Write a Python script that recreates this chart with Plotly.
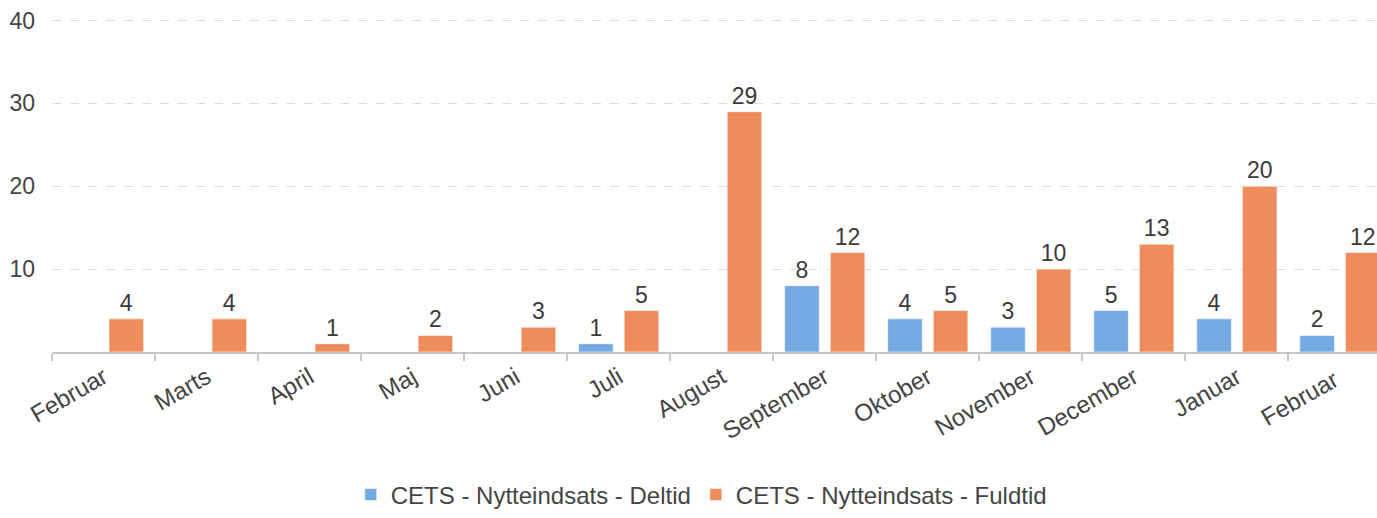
import plotly.graph_objects as go

months = ["Februar", "Marts", "April", "Maj", "Juni", "Juli", "August",
          "September", "Oktober", "November", "December", "Januar", "Februar "]
deltid = [None, None, None, None, None, 1, None, 8, 4, 3, 5, 4, 2]
fuldtid = [4, 4, 1, 2, 3, 5, 29, 12, 5, 10, 13, 20, 12]
y_ticks = [10, 20, 30, 40]

FONT = "Liberation Sans, Arial, sans-serif"
BLUE = "#74a9e1"
ORANGE = "#ef8c5c"


def lbl(vals):
    return [("" if v is None else str(v)) for v in vals]


fig = go.Figure()
for name, vals, col in [("CETS - Nytteindsats - Deltid", deltid, BLUE),
                        ("CETS - Nytteindsats - Fuldtid", fuldtid, ORANGE)]:
    fig.add_trace(go.Bar(
        name=name, x=months, y=vals,
        marker=dict(color=col, line=dict(color="rgba(255,255,255,0.6)", width=1)),
        text=lbl(vals), textposition="outside", cliponaxis=False,
        constraintext="none",
        textfont=dict(family=FONT, size=23, color="#3a3a3a"),
    ))

fig.update_layout(
    width=1377, height=518,
    margin=dict(l=52, r=0, t=18, b=158),
    paper_bgcolor="white", plot_bgcolor="white",
    barmode="group", bargap=0.115, bargroupgap=0.24,
    font=dict(family=FONT, size=23, color="#444"),
    showlegend=True,
    legend=dict(orientation="h", x=0.49, xanchor="center", y=-0.428,
                yanchor="middle", font=dict(family=FONT, size=24, color="#444"),
                traceorder="normal"),
    xaxis=dict(
        type="category", categoryorder="array", categoryarray=months,
        range=[-0.5, 12.36], tickson="boundaries", ticks="outside",
        ticklen=7, tickcolor="#c8c8c8", tickwidth=2,
        showline=True, linecolor="#c8c8c8", linewidth=2,
        showgrid=False, tickangle=-30, automargin=False,
        ticklabeloverflow="allow",
        tickfont=dict(family=FONT, size=24, color="#444"),
    ),
    yaxis=dict(
        range=[0, 40.3], tickvals=y_ticks, showline=False, zeroline=False,
        showgrid=True, gridcolor="#dddddd", griddash="dash", gridwidth=1,
        ticks="", ticklabelstandoff=16, automargin=False,
        ticklabeloverflow="allow",
        tickfont=dict(family=FONT, size=23, color="#444"),
    ),
)

# make the page exactly the figure's size (no default body margin)
page_css = (
    "document.documentElement.style.margin='0';"
    "document.documentElement.style.overflow='hidden';"
    "document.body.style.margin='0';"
    "document.body.style.overflow='hidden';"
)
fig.write_html("out.html", config={"displayModeBar": False},
               post_script=page_css)
